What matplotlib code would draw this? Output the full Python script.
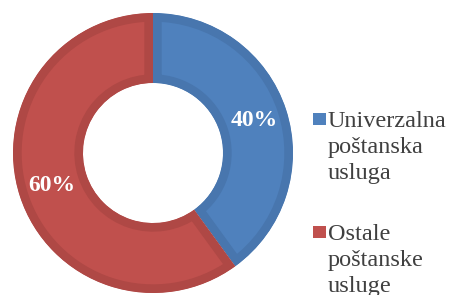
import matplotlib
matplotlib.use("Agg")
from matplotlib import pyplot as plt
from matplotlib.patches import Rectangle

labels = ["Univerzalna\npoštanska\nusluga", "Ostale\npoštanske\nusluge"]
shares = [40, 60]
face_colors = ["#4F81BD", "#C0504D"]
edge_colors = ["#4876AE", "#AF4845"]

plt.rcParams["font.family"] = ["Liberation Serif", "DejaVu Serif"]

fig = plt.figure(figsize=(4.49, 2.95), dpi=100)
ax = fig.add_axes([13 / 449, 2 / 295, 280 / 449, 280 / 295])

wedges, texts, autotexts = ax.pie(
    shares, colors=face_colors, startangle=90, counterclock=False,
    radius=1.0, wedgeprops=dict(width=0.5, linewidth=12.5),
    autopct="%d%%", pctdistance=0.76,
    textprops=dict(color="white", fontsize=17, fontweight="bold"))

# dark inner rim: stroke clipped to its own wedge so only the inner half shows
for w, ec in zip(wedges, edge_colors):
    w.set_edgecolor(ec)
    w.set_clip_on(True)
    w.set_clip_path(w)

ax.set_xlim(-1, 1)
ax.set_ylim(-1, 1)
ax.set_aspect("equal")

# legend drawn by hand: square marker next to first line of a wrapped label
H = 295.0
tops = [111, 224]
for lab, fc, top in zip(labels, face_colors, tops):
    fig.patches.append(Rectangle((313 / 449, 1 - (top + 14) / H), 13 / 449, 12 / H,
                                 transform=fig.transFigure, facecolor=fc,
                                 edgecolor="none"))
    fig.text(328 / 449, 1 - top / H, lab, ha="left", va="top",
             fontsize=17.5, color="#404040", linespacing=1.32)

fig.savefig("out.png", dpi=100)
